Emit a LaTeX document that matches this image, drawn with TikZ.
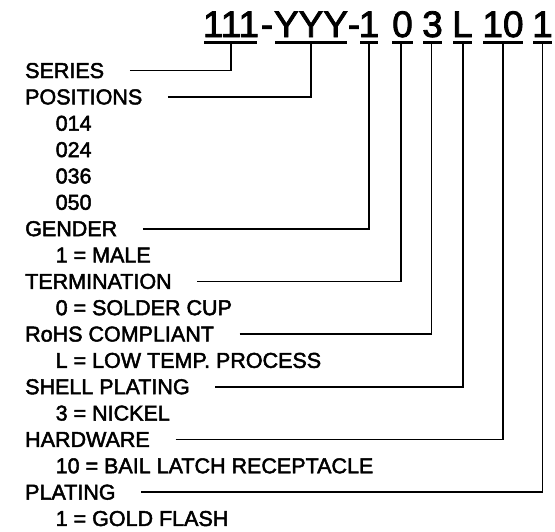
\documentclass[tikz,border=0pt]{standalone}
\usepackage{fontspec}
\setmainfont{Liberation Sans}
\newfontfamily\heavy[FakeBold=2.2]{Liberation Sans}
\begin{document}
\begin{tikzpicture}[x=1pt,y=1pt,
  lbl/.style={anchor=base west,inner sep=0pt,font=\heavy\fontsize{21.5}{24}\selectfont},
  hdr/.style={anchor=base,inner sep=0pt,font=\heavy\fontsize{37}{40}\selectfont},
  conn/.style={line width=1.6pt,black},
  uline/.style={line width=3pt,black}]
\useasboundingbox (0,0) rectangle (555,-531);
% header
\node[hdr] (h111) at (231,-37) {111};
\node[hdr] (hd1) at (267,-37) {-};
\node[hdr] (hyyy) at (311,-37) {YYY};
\node[hdr] (hd2) at (354,-37) {-};
\node[hdr] (hg) at (369,-37) {1};
\node[hdr] (ht) at (402.5,-37) {0};
\node[hdr] (hr) at (432.5,-37) {3};
\node[hdr] (hs) at (462.5,-37) {L};
\node[hdr] (hh) at (503,-37) {10};
\node[hdr] (hp) at (542.5,-37) {1};
% tick points
\coordinate (t111) at (231,-42);
\coordinate (tyyy) at (311,-42);
\coordinate (tg) at (369,-42);
\coordinate (tt) at (401,-42);
\coordinate (tr) at (431.5,-42);
\coordinate (ts) at (463,-42);
\coordinate (th) at (503,-42);
\coordinate (tp) at (542.5,-42);
% underlines
\draw[uline] (204,-42) -- (257,-42);
\draw[uline] (275,-42) -- (347,-42);
\draw[uline] (360,-42) -- (378,-42);
\draw[uline] (392,-42) -- (413,-42);
\draw[uline] (423,-42) -- (442,-42);
\draw[uline] (453,-42) -- (472,-42);
\draw[uline] (483,-42) -- (523,-42);
\draw[uline] (533,-42) -- (552,-42);
% labels
\node[lbl] (ser) at (25,-78) {SERIES};
\node[lbl] (pos) at (25,-104.35) {POSITIONS};
\node[lbl] (p1) at (55.5,-130.7) {014};
\node[lbl] (p2) at (55.5,-157.05) {024};
\node[lbl] (p3) at (55.5,-183.4) {036};
\node[lbl] (p4) at (55.5,-209.75) {050};
\node[lbl] (gen) at (25,-236.1) {GENDER};
\node[lbl] (g1) at (55.5,-262.45) {1 = MALE};
\node[lbl] (ter) at (25,-288.8) {TERMINATION};
\node[lbl] (t1) at (55.5,-315.15) {0 = SOLDER CUP};
\node[lbl] (rohs) at (25,-341.5) {RoHS COMPLIANT};
\node[lbl] (r1) at (55.5,-367.85) {L = LOW TEMP. PROCESS};
\node[lbl] (she) at (25,-394.2) {SHELL PLATING};
\node[lbl] (s1) at (55.5,-420.55) {3 = NICKEL};
\node[lbl] (har) at (25,-446.9) {HARDWARE};
\node[lbl] (ha1) at (55.5,-473.25) {10 = BAIL LATCH RECEPTACLE};
\node[lbl] (pla) at (25,-499.6) {PLATING};
\node[lbl] (pl1) at (55.5,-525.95) {1 = GOLD FLASH};
% connectors
\draw[conn] ([xshift=25.5pt]ser.east) -| (t111);
\draw[conn] ([xshift=25.5pt]pos.east) -| (tyyy);
\draw[conn] ([xshift=25.5pt]gen.east) -| (tg);
\draw[conn] ([xshift=25.5pt]ter.east) -| (tt);
\draw[conn] ([xshift=25.5pt]rohs.east) -| (tr);
\draw[conn] ([xshift=25.5pt]she.east) -| (ts);
\draw[conn] ([xshift=25.5pt]har.east) -| (th);
\draw[conn] ([xshift=25.5pt]pla.east) -| (tp);
\end{tikzpicture}
\end{document}
